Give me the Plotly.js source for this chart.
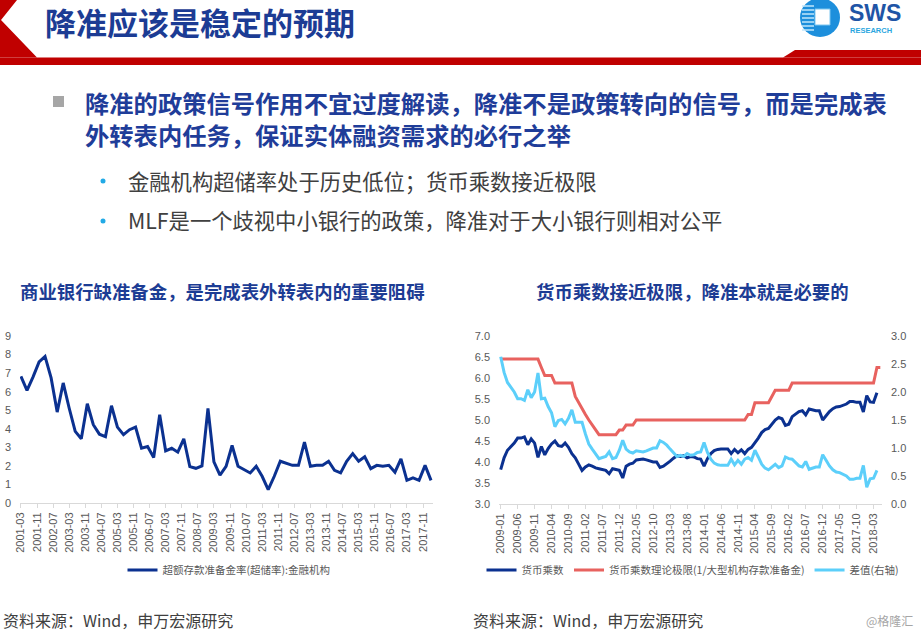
<!DOCTYPE html>
<html>
<head>
<meta charset="utf-8">
<script src="https://cdn.plot.ly/plotly-3.0.1.min.js"></script>
<style>
html,body{margin:0;padding:0;background:#ffffff;}
#chart{width:921px;height:633px;}
</style>
</head>
<body>
<div id="chart"></div>
<script>
// ---------------- DATA ----------------
// Left chart: excess reserve ratio (quarterly, 2001-03 .. 2018-03)
const excessReserveRatio = [
  6.83, 6.07, 6.80, 7.60, 7.90, 6.74, 4.90, 6.47, 5.12, 3.86, 3.46, 5.35,
  4.22, 3.71, 3.58, 5.24, 4.09, 3.68, 3.95, 4.09, 2.95, 3.04, 2.45, 4.76,
  2.81, 2.95, 2.74, 3.46, 1.96, 1.87, 2.00, 5.10, 2.22, 1.50, 1.97, 3.10,
  1.98, 1.80, 1.62, 1.98, 1.44, 0.72, 1.44, 2.25, 2.16, 2.03, 2.03, 3.28,
  1.98, 2.03, 2.03, 2.25, 1.76, 1.62, 2.25, 2.66, 2.25, 2.49, 1.85, 2.03,
  1.98, 2.03, 1.66, 2.38, 1.22, 1.35, 1.22, 2.03, 1.22
];
const leftTickLabels = ['2001-03','2001-11','2002-07','2003-03','2003-11','2004-07','2005-03','2005-11',
  '2006-07','2007-03','2007-11','2008-07','2009-03','2009-11','2010-07','2011-03','2011-11','2012-07',
  '2013-03','2013-11','2014-07','2015-03','2015-11','2016-07','2017-03','2017-11'];
const leftSeriesName = '超额存款准备金率(超储率):金融机构';

// Right chart: monthly, 2009-01 .. 2018-05
const moneyMultiplier = [
  3.82, 4.10, 4.28, 4.36, 4.45, 4.57, 4.57, 4.60, 4.41, 4.55,
  4.45, 4.11, 4.37, 4.17, 4.32, 4.43, 4.50, 4.39, 4.37, 4.45,
  4.35, 4.20, 4.10, 3.95, 3.80, 3.88, 3.93, 3.90, 3.86, 3.84,
  3.82, 3.80, 3.72, 3.84, 3.82, 3.80, 3.62, 3.90, 3.95, 3.97,
  4.05, 4.06, 4.07, 4.05, 4.02, 4.00, 4.00, 3.87, 3.90, 3.95,
  4.02, 4.09, 4.15, 4.13, 4.15, 4.10, 4.13, 4.12, 4.08, 4.07,
  3.90, 4.08, 4.20, 4.27, 4.30, 4.31, 4.31, 4.31, 4.20, 4.30,
  4.22, 4.29, 4.20, 4.30, 4.35, 4.45, 4.57, 4.70, 4.77, 4.80,
  4.90, 5.00, 5.06, 5.03, 4.87, 4.90, 5.08, 5.15, 5.20, 5.22,
  5.12, 5.26, 5.24, 5.22, 5.22, 5.00, 5.10, 5.20, 5.27, 5.31,
  5.32, 5.35, 5.38, 5.44, 5.44, 5.42, 5.42, 5.19, 5.58, 5.43,
  5.42, 5.65
];
const theoreticalLimit = [
  6.45, 6.45, 6.45, 6.45, 6.45, 6.45, 6.45, 6.45, 6.45, 6.45,
  6.45, 6.45, 6.25, 6.06, 6.06, 6.06, 5.88, 5.88, 5.88, 5.88,
  5.88, 5.88, 5.56, 5.41, 5.26, 5.13, 5.00, 4.88, 4.76, 4.65,
  4.65, 4.65, 4.65, 4.65, 4.65, 4.76, 4.76, 4.88, 4.88, 4.88,
  5.00, 5.00, 5.00, 5.00, 5.00, 5.00, 5.00, 5.00, 5.00, 5.00,
  5.00, 5.00, 5.00, 5.00, 5.00, 5.00, 5.00, 5.00, 5.00, 5.00,
  5.00, 5.00, 5.00, 5.00, 5.00, 5.00, 5.00, 5.00, 5.00, 5.00,
  5.00, 5.00, 5.00, 5.13, 5.13, 5.41, 5.41, 5.41, 5.41, 5.41,
  5.56, 5.71, 5.71, 5.71, 5.71, 5.71, 5.88, 5.88, 5.88, 5.88,
  5.88, 5.88, 5.88, 5.88, 5.88, 5.88, 5.88, 5.88, 5.88, 5.88,
  5.88, 5.88, 5.88, 5.88, 5.88, 5.88, 5.88, 5.88, 5.88, 5.88,
  5.88, 6.25, 6.25
];
const spreadRightAxis = [
  2.63, 2.35, 2.17, 2.09, 2.00, 1.88, 1.88, 1.85, 2.04, 1.90,
  2.00, 2.34, 1.88, 1.89, 1.74, 1.63, 1.38, 1.49, 1.51, 1.43,
  1.53, 1.68, 1.46, 1.46, 1.46, 1.25, 1.07, 0.98, 0.90, 0.81,
  0.83, 0.85, 0.93, 0.81, 0.83, 0.96, 1.14, 0.98, 0.93, 0.91,
  0.95, 0.94, 0.93, 0.95, 0.98, 1.00, 1.00, 1.13, 1.10, 1.05,
  0.98, 0.91, 0.85, 0.87, 0.85, 0.90, 0.87, 0.88, 0.92, 0.93,
  1.10, 0.92, 0.80, 0.73, 0.70, 0.69, 0.69, 0.69, 0.80, 0.70,
  0.78, 0.71, 0.80, 0.83, 0.78, 0.96, 0.84, 0.71, 0.64, 0.61,
  0.66, 0.71, 0.65, 0.68, 0.84, 0.81, 0.80, 0.73, 0.68, 0.66,
  0.76, 0.62, 0.64, 0.66, 0.66, 0.88, 0.78, 0.68, 0.61, 0.57,
  0.56, 0.53, 0.50, 0.44, 0.44, 0.46, 0.46, 0.69, 0.30, 0.45,
  0.46, 0.60
];
const rightTickLabels = ['2009-01','2009-06','2009-11','2010-04','2010-09','2011-02','2011-07','2011-12',
  '2012-05','2012-10','2013-03','2013-08','2014-01','2014-06','2014-11','2015-04','2015-09','2016-02',
  '2016-07','2016-12','2017-05','2017-10','2018-03'];
const rightSeriesNames = ['货币乘数', '货币乘数理论极限(1/大型机构存款准备金)', '差值(右轴)'];

// ---------------- CATEGORIES ----------------
function pad(n){return (n<10?'0':'')+n;}
const leftDates = [];
for (let y = 2001; y <= 2018; y++) {
  for (const m of [3,6,9,12]) {
    if (y === 2018 && m > 3) break;
    leftDates.push(y + '-' + pad(m) + '-01');
  }
}
const rightMonths = [];
for (let i = 0; i < theoreticalLimit.length; i++) {
  const y = 2009 + Math.floor(i/12), m = i % 12 + 1;
  rightMonths.push(y + '-' + pad(m));
}
const leftTickVals = leftTickLabels.map(s => s + '-01');

// ---------------- LAYOUT HELPERS ----------------
const W = 921, H = 633;
const X = p => p / W;
const Y = p => 1 - p / H;
const CJK = '"Noto Sans CJK SC", "Microsoft YaHei", sans-serif';
const LAT = '"Liberation Sans", Arial, sans-serif';
const NAVY = '#0b3190', RED = '#e8625f', SKY = '#5ccffa';
const TITLEBLUE = '#1c3c94';
const tickFont = {family: LAT, size: 11, color: '#595959'};

const traces = [
  {x: leftDates, y: excessReserveRatio, xaxis: 'x', yaxis: 'y', type: 'scatter', mode: 'lines',
   name: leftSeriesName, line: {color: NAVY, width: 3}, legend: 'legend'},
  {x: rightMonths.slice(0, moneyMultiplier.length), y: moneyMultiplier, xaxis: 'x2', yaxis: 'y2', type: 'scatter', mode: 'lines',
   name: rightSeriesNames[0], line: {color: NAVY, width: 3}, legend: 'legend2'},
  {x: rightMonths, y: theoreticalLimit, xaxis: 'x2', yaxis: 'y2', type: 'scatter', mode: 'lines',
   name: rightSeriesNames[1], line: {color: RED, width: 3}, legend: 'legend2'},
  {x: rightMonths.slice(0, spreadRightAxis.length), y: spreadRightAxis, xaxis: 'x2', yaxis: 'y3', type: 'scatter', mode: 'lines',
   name: rightSeriesNames[2], line: {color: SKY, width: 3}, legend: 'legend2'}
];

const xCommon = {showgrid: false, zeroline: false, showline: true, linecolor: '#d9d9d9', linewidth: 1,
  ticks: 'outside', ticklen: 4, tickcolor: '#d9d9d9', tickangle: -90, tickfont: tickFont};
const yCommon = {showgrid: false, zeroline: false, showline: false, ticks: '', tickfont: tickFont, ticklabelstandoff: 8};

function ann(text, x, y, size, color, opts) {
  return Object.assign({text: text, x: X(x), y: Y(y), xref: 'paper', yref: 'paper', showarrow: false,
    xanchor: 'left', yanchor: 'middle', font: {family: CJK, size: size, color: color}}, opts || {});
}

const annotations = [
  ann('<b>降准应该是稳定的预期</b>', 43, 21, 31, TITLEBLUE),
  ann('<b>SWS</b>', 848, 13, 23, '#1f55a6', {font: {family: LAT, size: 23, color: '#1f55a6'}, borderpad: 0}),
  ann('<b>RESEARCH</b>', 849, 30, 7.5, '#2aa6e0', {font: {family: LAT, size: 7.5, color: '#2aa6e0'}, borderpad: 0}),
  ann('<b>降准的政策信号作用不宜过度解读，降准不是政策转向的信号，而是完成表</b>', 83, 103, 24.3, '#1f3d99'),
  ann('<b>外转表内任务，保证实体融资需求的必行之举</b>', 83, 134, 24.3, '#1f3d99'),
  ann('金融机构超储率处于历史低位；货币乘数接近极限', 126, 180, 21.3, '#404040'),
  ann('MLF是一个歧视中小银行的政策，降准对于大小银行则相对公平', 126, 220, 21.3, '#404040'),
  ann('<b>商业银行缺准备金，是完成表外转表内的重要阻碍</b>', 222, 291, 18.4, TITLEBLUE, {xanchor: 'center'}),
  ann('<b>货币乘数接近极限，降准本就是必要的</b>', 692, 291, 18.4, TITLEBLUE, {xanchor: 'center'}),
  ann('资料来源：Wind，申万宏源研究', 1, 620, 16, '#404040'),
  ann('资料来源：Wind，申万宏源研究', 471, 620, 16, '#404040'),
  ann('@格隆汇', 915, 620, 12, '#a6a6a6', {xanchor: 'right'})
];

function pathP(pts) {
  return 'M' + pts.map(p => X(p[0]) + ',' + Y(p[1])).join(' L') + ' Z';
}

const shapes = [
  // header red pieces
  {type: 'path', xref: 'paper', yref: 'paper', path: pathP([[0,0],[17,0],[1,20],[37,57.5],[0,57.5]]),
   fillcolor: '#c00000', line: {width: 0}},
  {type: 'rect', xref: 'paper', yref: 'paper', x0: 0, x1: 1, y0: Y(65), y1: Y(57.5), fillcolor: '#c00000', line: {width: 0}},
  {type: 'path', xref: 'paper', yref: 'paper', path: pathP([[783,57.5],[795,50],[921,50],[921,57.5]]),
   fillcolor: '#c00000', line: {width: 0}},
  // logo
  {type: 'circle', xref: 'paper', yref: 'paper', x0: X(800), x1: X(840), y0: Y(37), y1: Y(-2),
   fillcolor: '#1d8fdc', line: {width: 0}},
  {type: 'rect', xref: 'paper', yref: 'paper', x0: X(815), x1: X(830), y0: Y(25), y1: Y(9),
   fillcolor: '#ffffff', line: {color: '#7cc6f0', width: 1}},
  // heading bullet and sub-bullets
  {type: 'rect', xref: 'paper', yref: 'paper', x0: X(53), x1: X(64), y0: Y(107), y1: Y(96),
   fillcolor: '#a6a6a6', line: {width: 0}},
  {type: 'circle', xref: 'paper', yref: 'paper', x0: X(100.5), x1: X(105.5), y0: Y(183.5), y1: Y(178.5),
   fillcolor: '#22aae6', line: {width: 0}},
  {type: 'circle', xref: 'paper', yref: 'paper', x0: X(100.5), x1: X(105.5), y0: Y(223.5), y1: Y(218.5),
   fillcolor: '#22aae6', line: {width: 0}}
];
// logo stripes
for (const sy of [6, 10, 14, 18, 22, 26, 30]) {
  shapes.push({type: 'line', xref: 'paper', yref: 'paper', x0: X(802), x1: X(814), y0: Y(sy), y1: Y(sy),
    line: {color: '#bfe6fb', width: 1.5}});
}

const layout = {
  width: W, height: H,
  margin: {l: 0, r: 0, t: 0, b: 0, pad: 0},
  paper_bgcolor: '#ffffff', plot_bgcolor: 'rgba(0,0,0,0)',
  font: {family: CJK, color: '#595959'},
  showlegend: true,
  xaxis: Object.assign({}, xCommon, {domain: [X(20), X(433)], anchor: 'y', type: 'date',
    range: ['2001-02-15', '2018-03-31'], tickmode: 'array', tickvals: leftTickVals, ticktext: leftTickLabels}),
  yaxis: Object.assign({}, yCommon, {domain: [Y(503), Y(336)], anchor: 'x', range: [0, 9], tick0: 0, dtick: 1}),
  xaxis2: Object.assign({}, xCommon, {domain: [X(499), X(882)], anchor: 'y2', type: 'category',
    range: [-0.5, 112.5], tickmode: 'array', tickvals: rightTickLabels, ticktext: rightTickLabels}),
  yaxis2: Object.assign({}, yCommon, {domain: [Y(504), Y(336)], anchor: 'x2', range: [3, 7], tick0: 3, dtick: 0.5, tickformat: '.1f'}),
  yaxis3: Object.assign({}, yCommon, {overlaying: 'y2', side: 'right', anchor: 'x2', range: [0, 3], tick0: 0, dtick: 0.5, tickformat: '.1f'}),
  legend: {orientation: 'h', x: X(229), xanchor: 'center', y: Y(570), yanchor: 'middle',
    font: {family: CJK, size: 10.5, color: '#595959'}, bgcolor: 'rgba(0,0,0,0)', itemwidth: 30},
  legend2: {orientation: 'h', x: X(693), xanchor: 'center', y: Y(570), yanchor: 'middle',
    font: {family: CJK, size: 10.5, color: '#595959'}, bgcolor: 'rgba(0,0,0,0)', itemwidth: 30},
  annotations: annotations,
  shapes: shapes
};

Plotly.newPlot('chart', traces, layout, {displayModeBar: false, staticPlot: true});
</script>
</body>
</html>
